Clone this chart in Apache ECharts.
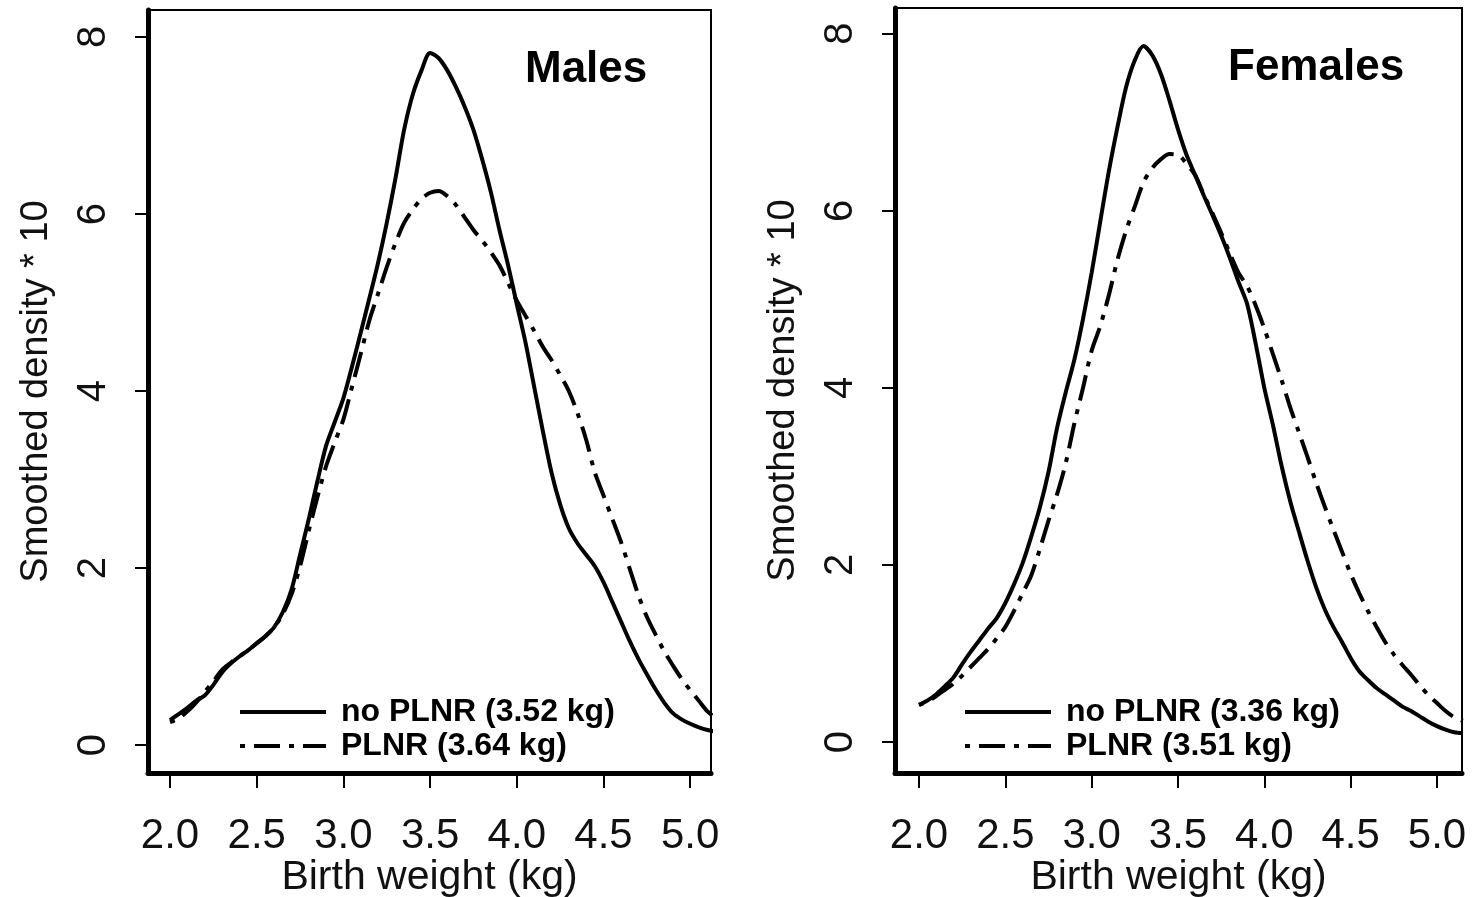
<!DOCTYPE html>
<html>
<head>
<meta charset="utf-8">
<script src="https://cdn.jsdelivr.net/npm/echarts@6/dist/echarts.min.js"></script>
<style>
html,body{margin:0;padding:0;background:#fff;}
#chart{width:1474px;height:897px;}
</style>
</head>
<body>
<div id="chart"></div>
<script>
// ---- data ----
const weightX = [2.00,2.05,2.10,2.15,2.20,2.25,2.30,2.35,2.40,2.45,2.50,2.55,2.60,2.65,2.70,2.75,2.80,2.85,2.90,2.95,3.00,3.05,3.10,3.15,3.20,3.25,3.30,3.35,3.40,3.45,3.50,3.55,3.60,3.65,3.70,3.75,3.80,3.85,3.90,3.95,4.00,4.05,4.10,4.15,4.20,4.25,4.30,4.35,4.40,4.45,4.50,4.55,4.60,4.65,4.70,4.75,4.80,4.85,4.90,4.95,5.00,5.05,5.10,5.15];

const malesNoPLNR = [0.28,0.35,0.42,0.50,0.56,0.68,0.82,0.92,1.00,1.07,1.15,1.23,1.33,1.50,1.75,2.15,2.55,2.98,3.38,3.65,3.92,4.28,4.66,5.05,5.45,5.90,6.40,6.95,7.35,7.62,7.82,7.76,7.62,7.43,7.21,6.95,6.62,6.25,5.82,5.42,4.98,4.55,4.05,3.55,3.08,2.72,2.45,2.28,2.15,2.02,1.84,1.62,1.40,1.18,0.98,0.80,0.63,0.48,0.36,0.29,0.24,0.20,0.17,0.15];
const malesPLNR = [0.26,0.30,0.38,0.48,0.60,0.72,0.85,0.93,1.00,1.07,1.15,1.23,1.33,1.48,1.70,2.02,2.42,2.80,3.15,3.42,3.68,4.05,4.42,4.80,5.10,5.40,5.67,5.90,6.05,6.17,6.24,6.26,6.20,6.10,5.96,5.82,5.70,5.57,5.42,5.22,5.02,4.85,4.68,4.50,4.35,4.18,4.00,3.75,3.45,3.08,2.82,2.56,2.30,2.00,1.70,1.45,1.25,1.06,0.90,0.75,0.62,0.50,0.38,0.30];

const femalesNoPLNR = [0.42,0.47,0.54,0.63,0.73,0.88,1.02,1.15,1.28,1.40,1.57,1.78,2.02,2.32,2.65,3.05,3.55,3.95,4.32,4.78,5.30,5.88,6.45,6.95,7.40,7.70,7.86,7.76,7.55,7.25,6.92,6.63,6.40,6.17,5.95,5.72,5.47,5.20,4.95,4.50,4.00,3.58,3.12,2.72,2.38,2.05,1.75,1.50,1.30,1.13,0.95,0.80,0.70,0.61,0.54,0.47,0.40,0.35,0.29,0.23,0.18,0.14,0.11,0.10];
const femalesPLNR = [0.42,0.46,0.52,0.59,0.66,0.75,0.85,0.95,1.05,1.17,1.30,1.48,1.68,1.88,2.18,2.50,2.80,3.15,3.60,4.00,4.42,4.70,5.05,5.45,5.78,6.05,6.32,6.48,6.58,6.64,6.63,6.53,6.40,6.18,5.97,5.75,5.52,5.30,5.15,4.93,4.67,4.38,4.09,3.78,3.50,3.22,2.93,2.66,2.40,2.15,1.90,1.68,1.48,1.30,1.13,0.99,0.87,0.76,0.64,0.53,0.44,0.35,0.28,0.24];

const xTicks = [2.0,2.5,3.0,3.5,4.0,4.5,5.0];
const yTicks = [0,2,4,6,8];
const panelTitles = ['Males','Females'];
const seriesNames = [
  ['no PLNR (3.52 kg)','PLNR (3.64 kg)'],
  ['no PLNR (3.36 kg)','PLNR (3.51 kg)']
];
const xLabel = 'Birth weight (kg)';
const yLabel = 'Smoothed density * 10';

// ---- chart ----
const FONT = "'Liberation Sans', Arial, Helvetica, sans-serif";
const chart = echarts.init(document.getElementById('chart'), null, {renderer:'canvas'});

const grids = [
  {left:148, top:10, width:563, height:763},
  {left:895, top:8, width:567, height:765}
];
const xRanges = [[1.873,5.12],[1.861,5.145]];
const yRanges = [[-0.316,8.305],[-0.35,8.29]];

function pairs(xs, ys){ return xs.map((x,i)=>[x, ys[i]]); }

const dashDot = [5,9,26,9];

function mkX(i){
  return {
    type:'value', gridIndex:i, min:xRanges[i][0], max:xRanges[i][1],
    name:xLabel, nameLocation:'middle', nameGap:84, nameMoveOverlap:false,
    nameTextStyle:{fontSize:41, color:'#111', fontFamily:FONT},
    axisLine:{show:true, onZero:false, lineStyle:{color:'#000', width:5}},
    axisTick:{show:true, length:15, lineStyle:{color:'#000', width:2}, customValues:xTicks},
    axisLabel:{show:true, margin:42, fontSize:42, color:'#111', fontFamily:FONT,
      customValues:xTicks, formatter:v=>Number(v).toFixed(1)},
    splitLine:{show:false}
  };
}
function mkY(i){
  return {
    type:'value', gridIndex:i, min:yRanges[i][0], max:yRanges[i][1],
    name:yLabel, nameLocation:'middle', nameGap:92, nameRotate:90, nameMoveOverlap:false,
    nameTextStyle:{fontSize:38, color:'#111', fontFamily:FONT},
    axisLine:{show:true, onZero:false, lineStyle:{color:'#000', width:5}},
    axisTick:{show:true, length:13, lineStyle:{color:'#000', width:2}, customValues:yTicks},
    axisLabel:{show:true, margin:34, rotate:90, fontSize:40, color:'#111', fontFamily:FONT,
      customValues:yTicks, formatter:v=>String(v)},
    splitLine:{show:false}
  };
}

const series = [];
const data = [[malesNoPLNR, malesPLNR],[femalesNoPLNR, femalesPLNR]];
for (let p=0;p<2;p++){
  series.push({
    name:seriesNames[p][0], type:'line', xAxisIndex:p, yAxisIndex:p,
    data:pairs(weightX, data[p][0]), symbol:'none', smooth:0.3,
    lineStyle:{color:'#000', width:4, type:'solid'}, itemStyle:{color:'#000'}
  });
  series.push({
    name:seriesNames[p][1], type:'line', xAxisIndex:p, yAxisIndex:p,
    data:pairs(weightX, data[p][1]), symbol:'none', smooth:0.3,
    lineStyle:{color:'#000', width:4, type:dashDot}, itemStyle:{color:'#000'}
  });
}

function legendItems(p){
  return [
    {name:seriesNames[p][0], itemStyle:{opacity:0}, lineStyle:{width:4, type:'solid', color:'#000'}},
    {name:seriesNames[p][1], itemStyle:{opacity:0}, lineStyle:{width:4, type:dashDot, color:'#000'}}
  ];
}
function mkLegend(p, left){
  return {
    data:legendItems(p), left:left, top:690, orient:'vertical', itemWidth:86, itemHeight:12, itemGap:0,
    itemStyle:{opacity:0}, lineStyle:{width:4},
    textStyle:{fontSize:32, fontWeight:'bold', color:'#000', fontFamily:FONT, lineHeight:34, padding:[0,0,0,10]},
    selectedMode:false
  };
}

const option = {
  animation:false,
  backgroundColor:'#fff',
  title:[
    {text:panelTitles[0], left:520, top:43, textStyle:{fontSize:44, fontWeight:'bold', color:'#000', fontFamily:FONT}},
    {text:panelTitles[1], left:1223, top:41, textStyle:{fontSize:44, fontWeight:'bold', color:'#000', fontFamily:FONT}}
  ],
  grid:grids.map(g=>Object.assign({show:true, borderColor:'#000', borderWidth:2, backgroundColor:'transparent',
    containLabel:false, outerBoundsMode:'none'}, g)),
  xAxis:[mkX(0), mkX(1)],
  yAxis:[mkY(0), mkY(1)],
  legend:[mkLegend(0, 233), mkLegend(1, 958)],
  series:series
};
chart.setOption(option);
</script>
</body>
</html>
